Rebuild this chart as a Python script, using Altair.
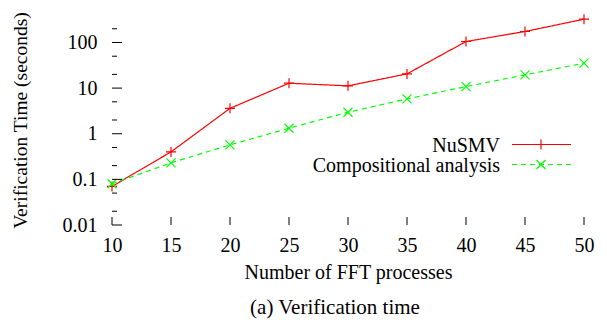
import altair as alt
import pandas as pd

# ---- data ----
x_values = [10, 15, 20, 25, 30, 35, 40, 45, 50]
nusmv = [0.07, 0.40, 3.6, 12.8, 11.2, 20.5, 105, 174, 324]
compositional = [0.08, 0.23, 0.57, 1.32, 2.96, 5.8, 10.8, 19.5, 35.2]
series_names = ["NuSMV", "Compositional analysis"]
y_major = [0.01, 0.1, 1, 10, 100]
y_minor = [0.02, 0.05, 0.2, 0.5, 2, 5, 20, 50, 200]
x_ticks = [10, 15, 20, 25, 30, 35, 40, 45, 50]
x_title = "Number of FFT processes"
y_title = "Verification Time (seconds)"
caption = "(a) Verification time"

# ---- styles ----
FONT = "Liberation Serif"
FS = 20
colors = ["#ff0000", "#00ff00"]
dashes = [[1, 0], [5, 4]]
PLUS = "M-1,0L1,0M0,-1L0,1"
CROSS = "M-1,-1L1,1M-1,1L1,-1"
shapes = [PLUS, CROSS]
sizes = [100, 81]
W, H = 472, 210

df = pd.DataFrame({
    "n": x_values * 2,
    "t": nusmv + compositional,
    "series": [series_names[0]] * len(x_values) + [series_names[1]] * len(x_values),
})

xs = alt.Scale(domain=[10, 50], nice=False, zero=False)
ys = alt.Scale(type="log", domain=[0.01, 400], nice=False)

xaxis = alt.Axis(values=x_ticks, ticks=False, tickSize=0, domain=False, grid=False,
                 labelFont=FONT, labelFontSize=FS, labelColor="black", labelPadding=10,
                 labelFlush=False, labelOverlap=False,
                 title=x_title, titleFont=FONT, titleFontSize=FS, titleFontWeight="normal",
                 titleColor="black", titleY=53, titleBaseline="alphabetic")
yaxis = alt.Axis(values=y_major, format="~g", ticks=False, tickSize=0, domain=False, grid=False,
                 labelFont=FONT, labelFontSize=FS, labelColor="black", labelPadding=15,
                 labelBaseline="middle", labelAlign="right", labelOverlap=False, labelFlush=False,
                 title=y_title, titleFont=FONT, titleFontSize=19.5, titleFontWeight="normal",
                 titleColor="black", titleX=-86, titleY=H / 2, titleAngle=270,
                 titleBaseline="alphabetic", titleAlign="center")

X = alt.X("n:Q", scale=xs, axis=xaxis)
Y = alt.Y("t:Q", scale=ys, axis=yaxis)
color = alt.Color("series:N", scale=alt.Scale(domain=series_names, range=colors), legend=None)

base = alt.Chart(df)
lines = base.mark_line(strokeWidth=1.2).encode(
    x=X, y=Y, color=color,
    strokeDash=alt.StrokeDash("series:N", scale=alt.Scale(domain=series_names, range=dashes), legend=None),
)
points = base.mark_point(filled=False, strokeWidth=1.2, opacity=1).encode(
    x=X, y=Y, color=color,
    shape=alt.Shape("series:N", scale=alt.Scale(domain=series_names, range=shapes), legend=None),
    size=alt.Size("series:N", scale=alt.Scale(domain=series_names, range=sizes), legend=None),
)

# tick marks (drawn inward like the original)
ymaj = alt.Chart(pd.DataFrame({"t": y_major})).mark_rule(color="black", strokeWidth=1).encode(
    y=Y, x=alt.value(0), x2=alt.value(10))
ymin = alt.Chart(pd.DataFrame({"t": y_minor})).mark_rule(color="black", strokeWidth=1).encode(
    y=Y, x=alt.value(0), x2=alt.value(5))
xtk = alt.Chart(pd.DataFrame({"n": x_ticks})).mark_rule(color="black", strokeWidth=1).encode(
    x=X, y=alt.value(H), y2=alt.value(H - 8))

# legend (label left, sample right, gnuplot style)
legend_layers = []
for i, name in enumerate(series_names):
    ly = 129.5 + 20 * i
    ldf = pd.DataFrame({"label": [name]})
    legend_layers.append(alt.Chart(ldf).mark_text(
        align="right", baseline="alphabetic", font=FONT, fontSize=FS, color="black"
    ).encode(text="label:N", x=alt.value(388), y=alt.value(ly + 7)))
    rule_kw = dict(color=colors[i], strokeWidth=1.2)
    if i == 1:
        rule_kw["strokeDash"] = dashes[i]
    legend_layers.append(alt.Chart(ldf).mark_rule(**rule_kw).encode(
        x=alt.value(400), x2=alt.value(459), y=alt.value(ly)))
    legend_layers.append(alt.Chart(ldf).mark_point(
        shape=shapes[i], filled=False, color=colors[i], strokeWidth=1.2, size=sizes[i], opacity=1
    ).encode(x=alt.value(429), y=alt.value(ly)))

cap = alt.Chart(pd.DataFrame({"c": [caption]})).mark_text(
    align="center", baseline="alphabetic", font=FONT, fontSize=21, color="black"
).encode(text="c:N", x=alt.value(223), y=alt.value(299))

chart = alt.layer(lines, points, ymaj, ymin, xtk, *legend_layers, cap).properties(
    width=W, height=H,
    autosize=alt.AutoSizeParams(type="none"),
    padding={"left": 104, "top": 7, "right": 15, "bottom": 94},
).configure_view(stroke=None)

chart.save("out.html", embed_options={"renderer": "svg", "actions": False})
